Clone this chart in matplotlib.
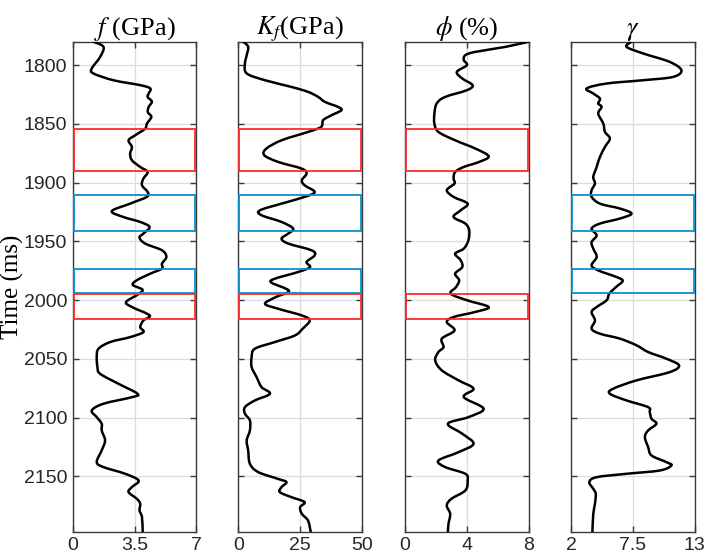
import matplotlib
matplotlib.use("Agg")
import matplotlib.pyplot as plt
from matplotlib.patches import Rectangle, PathPatch
from matplotlib.path import Path

plt.rcParams['mathtext.fontset'] = 'stix'

# ---- data ----
f_time = [1780, 1784.4, 1793, 1802.8, 1807, 1812.8, 1817, 1819.8, 1824, 1827, 1831, 1835.5, 1840, 1844,
          1849.7, 1854, 1859.6, 1863.9, 1869.6, 1875.2, 1880.9, 1886.6, 1890.9, 1896.5, 1902.2, 1907.9,
          1912, 1917.8, 1924.2, 1929.2, 1933.4, 1937.7, 1943.3, 1946.7, 1951.8, 1957.5, 1963.2, 1968.9,
          1973.1, 1977.4, 1983, 1987, 1991, 1995, 2001.5, 2005.8, 2012.9, 2017.2, 2022.9, 2027.1, 2031.4,
          2035.6, 2041.3, 2048.4, 2056.9, 2062.6, 2071.1, 2079.6, 2082.5, 2088.1, 2093.8, 2099.5, 2105.1,
          2110.8, 2119.3, 2127.8, 2137.8, 2142, 2147.7, 2153.4, 2159, 2163.3, 2169, 2173.2, 2178.9, 2184.6,
          2197.4]
f_vals = [1.17, 1.74, 1.55, 1.08, 1.17, 2.3, 3.82, 4.39, 4.3, 4.24, 4.48, 4.3, 4.25, 4.45,
          4.2, 4.1, 3.54, 3.16, 3.35, 3.25, 3.35, 3.82, 4.24, 4.0, 3.92, 4.24,
          4.2, 3.25, 2.21, 2.87, 3.82, 4.35, 4.0, 3.78, 4.1, 5.05, 5.3, 5.05,
          5.05, 4.39, 3.63, 3.4, 3.95, 3.7, 3.02, 3.35, 4.35, 4.0, 3.82, 4.0, 3.25,
          2.12, 1.46, 1.36, 1.4, 1.55, 2.59, 3.67, 3.35, 1.74, 1.08, 1.36, 1.64,
          1.64, 1.83, 1.64, 1.36, 1.74, 2.97, 3.73, 3.35, 3.16, 3.63, 3.82, 3.78, 3.92,
          3.96]

kf_time = [1780, 1784.4, 1791.5, 1798.6, 1807, 1812.8, 1818.5, 1822.7, 1827, 1831.2, 1835.5, 1838.3,
           1842.6, 1846.8, 1852.5, 1856.8, 1863.9, 1870.9, 1876.6, 1882.3, 1888, 1892.2, 1897.9, 1902.2,
           1907.9, 1912.1, 1917.8, 1923.5, 1927.7, 1933.4, 1939.1, 1943.3, 1947.6, 1951.8, 1957.5, 1961.8,
           1967.5, 1971.8, 1976, 1981.7, 1985, 1992, 1997.3, 2003, 2007.2, 2012.9, 2017.2, 2024.3, 2030,
           2035.6, 2041.3, 2048.4, 2056.9, 2065.4, 2073.9, 2079.6, 2085.3, 2091, 2096.6, 2102.3, 2110.8,
           2119.3, 2127.8, 2139.2, 2146.3, 2152, 2154.8, 2159, 2163.3, 2167.6, 2171.8, 2176.1, 2181.8,
           2187.5, 2197.4]
kf_vals = [2.0, 4.0, 3.4, 2.7, 3.4, 10.8, 21.5, 28.2, 32.3, 35.0, 40.3, 41.7,
           37.7, 34.3, 33.5, 28.2, 17.5, 11.4, 10.5, 16.1, 25.6, 27.6, 25.7, 26.8,
           30.9, 26.8, 17.5, 8.75, 9.4, 17.5, 22.2, 20.2, 17.5, 20.2, 29.6, 30.9,
           27.6, 29.0, 24.2, 14.8, 13.4, 20.5, 15.2, 10.8, 16.0, 25.6, 28.9, 26.0, 22.9,
           14.8, 6.7, 5.4, 5.4, 7.4, 9.4, 12.8, 6.7, 2.7, 2.7, 4.7, 4.7,
           3.4, 4.0, 4.7, 8.1, 16.0, 19.5, 17.5, 16.8, 21.5, 26.8, 25.0, 25.7,
           28.2, 29.3]

phi_time = [1780, 1784.4, 1788.7, 1791.5, 1795.7, 1800, 1805.7, 1811.3, 1817, 1821.3, 1827, 1832.6,
            1841.1, 1849.7, 1856.8, 1863.9, 1870.9, 1877.5, 1882.3, 1886.6, 1890.9, 1896.5, 1900.7,
            1906.4, 1912.1, 1917.8, 1923.5, 1929.2, 1934.8, 1940.5, 1949, 1956.1, 1960.4, 1966, 1971.8,
            1977.4, 1983, 1988.8, 1994.4, 2000, 2005.8, 2010, 2014.3, 2018.6, 2025.7, 2032.7, 2039.9,
            2044.1, 2051.2, 2059.7, 2068.2, 2075.3, 2082.4, 2092.3, 2099.5, 2105.1, 2113.6, 2122.2,
            2129.3, 2136.4, 2142, 2147.7, 2153.4, 2161.9, 2169, 2174.7, 2181.8, 2190.3, 2197.4]
phi_vals = [8.0, 6.5, 4.54, 3.9, 3.8, 4.0, 3.35, 3.7, 4.37, 4.0, 2.6, 2.05,
            1.9, 1.9, 2.16, 3.24, 4.54, 5.41, 4.8, 3.8, 3.24, 3.14, 3.2,
            2.7, 3.14, 4.05, 3.6, 3.14, 3.9, 4.15, 4.1, 3.8, 3.24, 3.6, 3.7,
            3.24, 3.5, 3.3, 2.95, 4.0, 5.41, 4.54, 3.14, 2.7, 3.2, 2.38, 2.49,
            2.16, 1.95, 2.38, 3.46, 4.43, 3.8, 5.08, 4.1, 2.77, 3.7, 4.43,
            3.46, 2.16, 2.6, 3.9, 4.05, 3.9, 3.0, 2.7, 2.92, 2.81, 2.77]

g_time = [1780, 1784.4, 1790, 1797.2, 1804.3, 1810, 1812.8, 1815.6, 1819.8, 1824.1, 1828.4, 1832.6,
          1835.5, 1841.1, 1849.7, 1856.8, 1862.4, 1869.5, 1878.1, 1886.6, 1895.1, 1900.7, 1906.4, 1912,
          1917.8, 1922, 1926.3, 1930.5, 1934.8, 1939.1, 1944.8, 1950.5, 1956.1, 1963.2, 1970.3, 1974.6,
          1980.3, 1983.5, 1988.8, 1994.4, 2000, 2005.8, 2010, 2017.2, 2024.3, 2028.5, 2032.7, 2038.4,
          2044.1, 2049.8, 2055.5, 2061.2, 2068.2, 2075.3, 2079.6, 2085.3, 2091, 2095.2, 2100.9, 2105.1,
          2110.8, 2116.5, 2125, 2132.1, 2137.8, 2140.6, 2144.9, 2147.7, 2150.6, 2154.8, 2160.5, 2164.8,
          2173.2, 2181.8, 2197.4]
g_vals = [7.38, 6.94, 8.41, 10.78, 11.82, 11.07, 8.41, 5.17, 3.39, 3.98, 4.57, 4.42,
          4.72, 4.42, 4.87, 5.02, 5.46, 5.02, 4.57, 4.28, 3.98, 4.13, 3.83, 3.83,
          4.57, 6.35, 7.38, 6.35, 4.57, 3.83, 4.28, 3.83, 3.98, 4.28, 3.83, 4.42,
          6.05, 6.6, 6.0, 5.4, 5.17, 4.28, 3.83, 4.13, 3.83, 4.57, 6.35, 7.83,
          8.86, 10.49, 11.61, 10.78, 7.83, 5.75, 5.46, 6.94, 8.86, 9.0, 9.16, 9.6,
          8.86, 8.57, 8.86, 9.16, 10.49, 10.93, 9.9, 6.94, 4.28, 3.63, 3.98, 4.2,
          4.13, 3.98, 3.9]

titles = [r'$f$ (GPa)', r'$K_f$(GPa)', r'$\phi$ (%)', r'$\gamma$']
xlims = [(0, 7), (0, 50), (0, 8), (2, 13)]
xtick_sets = [[0, 3.5, 7], [0, 25, 50], [0, 4, 8], [2, 7.5, 13]]
xtick_labels = [['0', '3.5', '7'], ['0', '25', '50'], ['0', '4', '8'], ['2', '7.5', '13']]
yticks = [1800, 1850, 1900, 1950, 2000, 2050, 2100, 2150]
ylim = (1780, 2197)

red_boxes = [(1854, 1890), (1995, 2016)]
blue_boxes = [(1910.5, 1941), (1973.5, 1994)]
red_panels = [0, 1, 2]
blue_panels = [0, 1, 3]

series_t = [f_time, kf_time, phi_time, g_time]
series_v = [f_vals, kf_vals, phi_vals, g_vals]


def smooth_path(xs, ys):
    """Draw a smooth curve through the read points (Catmull-Rom as cubic Bezier segments)."""
    pts = list(zip(xs, ys))
    n = len(pts)
    verts = [pts[0]]
    codes = [Path.MOVETO]
    for i in range(n - 1):
        p0 = pts[i - 1] if i > 0 else pts[i]
        p1 = pts[i]
        p2 = pts[i + 1]
        p3 = pts[i + 2] if i + 2 < n else pts[i + 1]
        c1 = (p1[0] + (p2[0] - p0[0]) / 6.0, p1[1] + (p2[1] - p0[1]) / 6.0)
        c2 = (p2[0] - (p3[0] - p1[0]) / 6.0, p2[1] - (p3[1] - p1[1]) / 6.0)
        verts += [c1, c2, p2]
        codes += [Path.CURVE4] * 3
    return Path(verts, codes)


fig = plt.figure(figsize=(7.06, 5.58), dpi=100)
lefts = [0.1030, 0.3375, 0.5737, 0.8088]
bottom, height, width = 0.0471, 0.8782, 0.1752

red_c = '#FF2A2A'
blue_c = '#0A90D0'
spine_c = '#3a3a3a'

for i in range(4):
    ax = fig.add_axes([lefts[i], bottom, width, height])
    ax.add_patch(PathPatch(smooth_path(series_v[i], series_t[i]), fill=False,
                           ec='black', lw=1.8, zorder=3, capstyle='round', joinstyle='round'))
    ax.set_xlim(*xlims[i])
    ax.set_ylim(ylim[1], ylim[0])
    ax.set_xticks(xtick_sets[i])
    ax.set_xticklabels(xtick_labels[i], fontsize=14, family='Liberation Sans', color='#262626')
    ax.set_yticks(yticks)
    if i == 0:
        ax.set_yticklabels([str(y) for y in yticks], fontsize=14, family='Liberation Sans', color='#262626')
        ax.set_ylabel('Time (ms)', fontsize=18, family='Liberation Serif', labelpad=0)
    else:
        ax.set_yticklabels([])
    ax.grid(True, color='#dcdcdc', lw=0.9, zorder=0)
    ax.set_axisbelow(True)
    ax.tick_params(direction='in', length=4, width=1.0, color=spine_c, top=True, right=True, pad=4)
    for s in ax.spines.values():
        s.set_color(spine_c)
        s.set_linewidth(1.0)
    ax.set_title(titles[i], fontsize=19, family='Liberation Serif', pad=5)
    x0, x1 = xlims[i]
    dx = (x1 - x0) * 0.008
    if i in red_panels:
        for (t0, t1) in red_boxes:
            ax.add_patch(Rectangle((x0 + dx, t0), x1 - x0 - 2 * dx, t1 - t0, fill=False,
                                   ec=red_c, lw=1.3, zorder=4))
    if i in blue_panels:
        for (t0, t1) in blue_boxes:
            ax.add_patch(Rectangle((x0 + dx, t0), x1 - x0 - 2 * dx, t1 - t0, fill=False,
                                   ec=blue_c, lw=1.3, zorder=4))

fig.savefig('out.png', dpi=100)
